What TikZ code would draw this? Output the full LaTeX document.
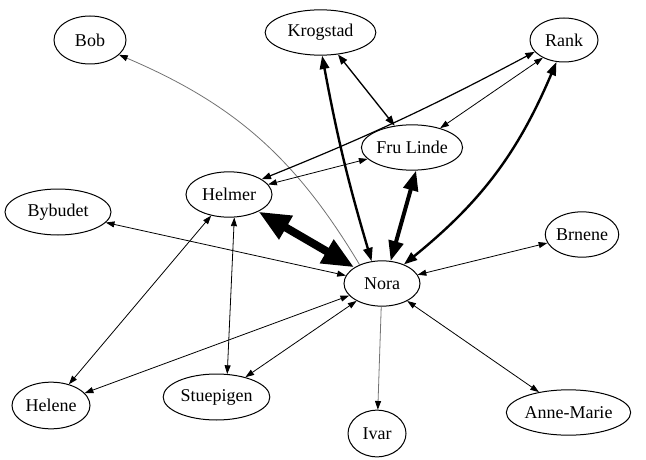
\documentclass[tikz,border=0pt]{standalone}
\usepackage{fontspec}
\setmainfont{Liberation Serif}
\usetikzlibrary{shapes.geometric,arrows.meta}
\tikzset{
  person/.style={ellipse, draw, line width=0.75pt, inner sep=0pt, font=\fontsize{13.5}{15}\selectfont},
  thinedge/.style={line width=0.6pt, {Triangle[length=6.5pt,width=4.5pt]}-{Triangle[length=6.5pt,width=4.5pt]}},
  grayedge/.style={line width=0.6pt, draw=black!55, -{Triangle[length=6.5pt,width=4.5pt,fill=black,color=black]}},
  midedge/.style={line width=1.0pt, {Triangle[length=7.5pt,width=5.5pt]}-{Triangle[length=7.5pt,width=5.5pt]}},
  rankedge/.style={line width=0.9pt, {Triangle[length=7pt,width=5pt]}-{Triangle[length=7pt,width=5pt]}},
  thickedge/.style={line width=1.8pt, {Triangle[length=10pt,width=7pt]}-{Triangle[length=10pt,width=7pt]}},
  heavyedge/.style={line width=3pt, {Triangle[length=15pt,width=11pt]}-{Triangle[length=15pt,width=11pt]}},
  hugeedge/.style={line width=6pt, {Triangle[length=24pt,width=19pt]}-{Triangle[length=24pt,width=19pt]}},
}
\begin{document}
\begin{tikzpicture}[x=0.75pt,y=-0.75pt]
\useasboundingbox (0,0) rectangle (646,460);
\node[person, minimum width=54pt, minimum height=36pt] (bob) at (90,40) {Bob};
\node[person, minimum width=83pt, minimum height=34pt] (krogstad) at (320.5,32.5) {Krogstad};
\node[person, minimum width=51pt, minimum height=33pt] (rank) at (564,40) {Rank};
\node[person, minimum width=72pt, minimum height=34pt] (frulinde) at (412,147.5) {Fru Linde};
\node[person, minimum width=64.5pt, minimum height=34pt] (helmer) at (229,194.5) {Helmer};
\node[person, minimum width=79.5pt, minimum height=34.5pt] (bybudet) at (58,212) {Bybudet};
\node[person, minimum width=52.5pt, minimum height=34pt] (brnene) at (582,234.5) {Brnene};
\node[person, minimum width=57pt, minimum height=34pt] (nora) at (382,283.5) {Nora};
\node[person, minimum width=58.5pt, minimum height=35pt] (helene) at (51,405.5) {Helene};
\node[person, minimum width=80pt, minimum height=34.5pt] (stuepigen) at (216.5,397) {Stuepigen};
\node[person, minimum width=43.5pt, minimum height=35pt] (ivar) at (377,433.5) {Ivar};
\node[person, minimum width=87.5pt, minimum height=34pt] (annemarie) at (568.5,412.5) {Anne-Marie};

\draw[grayedge] (nora.140) to[bend right=18] (bob.-27);
\draw[thickedge] (krogstad.-86) to[bend right=3] (nora.115);
\draw[midedge] (krogstad) -- (frulinde);
\draw[rankedge] (rank.-158) to[bend left=3] (helmer.25);
\draw[thinedge] (rank.-140) -- (frulinde);
\draw[thickedge] (rank.-109) to[bend left=14] (nora.41);
\draw[thinedge] (frulinde) -- (helmer);
\draw[heavyedge] (frulinde.-80) -- (nora.69);
\draw[hugeedge] (helmer) -- (nora);
\draw[thinedge] (bybudet) -- (nora);
\draw[thinedge] (brnene) -- (nora);
\draw[thinedge] (nora) -- (helene);
\draw[thinedge] (helmer) -- (helene);
\draw[thinedge] (helmer.-77) -- (stuepigen.65);
\draw[thinedge] (nora) -- (stuepigen);
\draw[grayedge] (nora) -- (ivar);
\draw[thinedge] (nora) -- (annemarie);
\end{tikzpicture}
\end{document}
